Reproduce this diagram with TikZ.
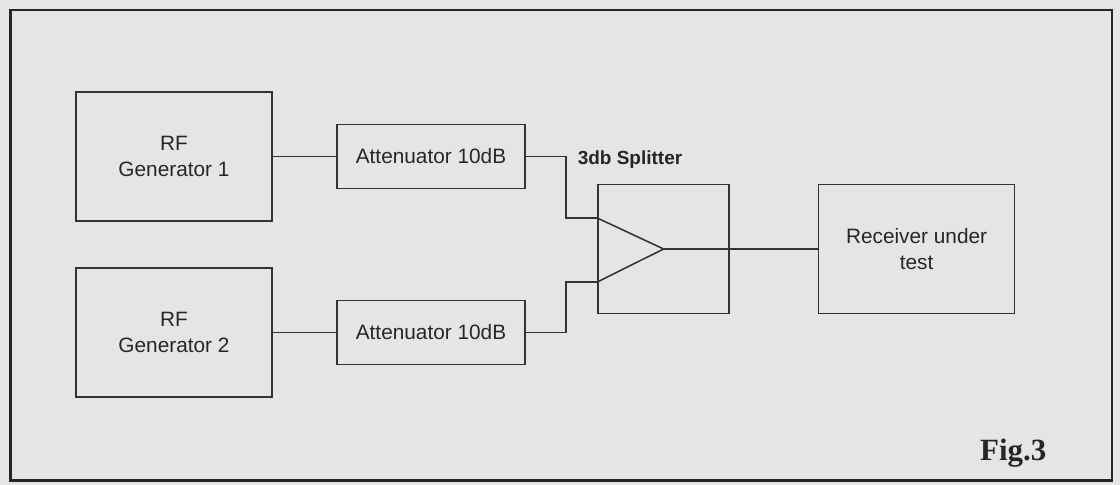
\documentclass[tikz,border=0pt]{standalone}
\usepackage{fontspec}
\setsansfont{Liberation Sans}
\newfontfamily\figfont{Liberation Serif}
\usetikzlibrary{positioning}

\begin{document}
\begin{tikzpicture}[node distance=4.4cm, auto,
        block/.style={rectangle, draw=black!80, line width=1.2pt, text=black!85, align=center, inner sep=0pt,
            minimum width=4.9cm, minimum height=3.225cm, font=\sffamily\fontsize{14.8}{19}\selectfont},
        att/.style={block, minimum width=4.7cm, minimum height=1.6cm},
        wire/.style={draw=black!80, line width=1.1pt}]
    % paper and frame
    \fill[gray!20] (0,0) rectangle (28,-12.125);
    \useasboundingbox (0,0) rectangle (28,-12.125);
    \draw[black!85, line width=2pt] (0.26,-0.25) rectangle (27.8,-12.02);

    \node[block] (gen1) at (4.35,-3.91) {RF\\Generator 1};
    \node[block, below of=gen1] (gen2) {RF\\Generator 2};
    \node[att, right of=gen1, node distance=6.425cm] (att1) {Attenuator 10dB};
    \node[att, right of=gen2, node distance=6.425cm] (att2) {Attenuator 10dB};
    \node[block, minimum width=3.275cm] (split) at (16.59,-6.225) {};
    \node[block, right of=split, node distance=6.325cm] (recv) {Receiver under\\test};
    \node[font=\sffamily\bfseries\fontsize{13.5}{16}\selectfont, text=black!85] (splitlbl) at (15.75,-4.0) {3db Splitter};
    \node[font=\figfont\bfseries\fontsize{22}{26}\selectfont, text=black!85] (fig) at (25.33,-11.33) {Fig.3};

    % splitter symbol
    \coordinate (in1) at ([yshift=0.775cm]split.west);
    \coordinate (in2) at ([yshift=-0.825cm]split.west);
    \draw[wire] (in1) -- (split.center) -- (in2);

    \draw[wire] (gen1) -- (att1);
    \draw[wire] (gen2) -- (att2);
    \draw[wire] (att1.east) -- ++(1cm,0) |- (in1);
    \draw[wire] (att2.east) -- ++(1cm,0) |- (in2);
    \draw[wire] (split.center) -- (recv.west);
\end{tikzpicture}
\end{document}
